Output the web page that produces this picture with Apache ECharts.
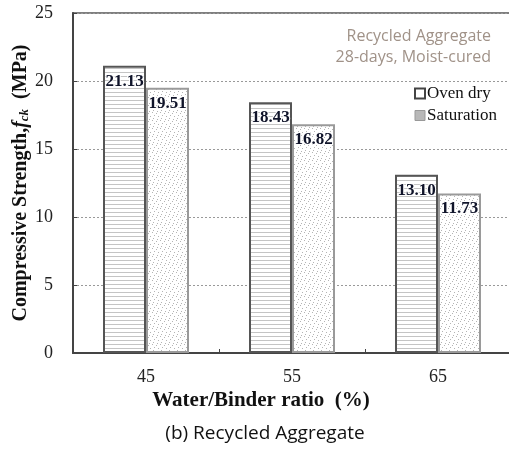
<!DOCTYPE html>
<html>
<head>
<meta charset="utf-8">
<script src="https://cdn.jsdelivr.net/npm/echarts@6/dist/echarts.min.js"></script>
<style>
  html, body { margin: 0; padding: 0; background: #fff; }
  #chart { width: 509px; height: 449px; }
</style>
</head>
<body>
<div id="chart"></div>
<script>
// Water/binder ratios and 28-day compressive strength (MPa)
const ratios = ['45', '55', '65'];
const ovenDry = [21.13, 18.43, 13.10];
const saturation = [19.51, 16.82, 11.73];
const yTicks = [0, 5, 10, 15, 20, 25];

// Hatch fill: horizontal light-gray lines
function makeHatch() {
  const c = document.createElement('canvas');
  c.width = 8; c.height = 4;
  const g = c.getContext('2d');
  g.fillStyle = '#ffffff';
  g.fillRect(0, 0, 8, 4);
  g.fillStyle = '#c4c4c4';
  g.fillRect(0, 0, 8, 1);
  return c;
}
// Stipple fill: scattered small gray dots
function makeStipple() {
  const c = document.createElement('canvas');
  c.width = 8; c.height = 8;
  const g = c.getContext('2d');
  g.fillStyle = '#ffffff';
  g.fillRect(0, 0, 8, 8);
  g.fillStyle = '#b4b4b4';
  [[0, 0], [4, 1], [2, 3], [6, 4], [1, 6], [5, 7]].forEach(p => g.fillRect(p[0], p[1], 1, 1));
  return c;
}

const serif = '"Liberation Serif", "Times New Roman", serif';
const sans = '"Open Sans", "Noto Sans", sans-serif';

const labelStyle = {
  show: true,
  position: 'insideTop',
  distance: 7,
  fontFamily: serif,
  fontWeight: 'bold',
  fontSize: 17,
  color: '#10142a',
  textBorderColor: '#ffffff',
  textBorderWidth: 2,
  formatter: p => p.value.toFixed(2)
};

const chart = echarts.init(document.getElementById('chart'), null, { renderer: 'canvas' });
chart.setOption({
  animation: false,
  backgroundColor: '#ffffff',
  grid: {
    left: 73, right: -2, top: 13, bottom: 96,
    outerBoundsMode: 'none',
    containLabel: false,
    show: true, borderColor: '#555', borderWidth: 1.5, backgroundColor: 'transparent'
  },
  legend: {
    orient: 'vertical',
    left: 409, top: 80,
    itemWidth: 10, itemHeight: 10, itemGap: 5,
    textStyle: { fontFamily: serif, fontSize: 17, color: '#111', padding: [0, 0, 0, -3] },
    data: [
      { name: 'Oven dry', icon: 'rect', itemStyle: { color: '#ffffff', borderColor: '#444', borderWidth: 2 } },
      { name: 'Saturation', icon: 'rect', itemStyle: { color: '#b8b8b8', borderColor: '#999', borderWidth: 1 } }
    ]
  },
  xAxis: {
    type: 'category',
    data: ratios,
    name: 'Water/Binder ratio  (%)',
    nameLocation: 'middle',
    nameGap: 37,
    nameMoveOverlap: false,
    nameTextStyle: { fontFamily: serif, fontWeight: 'bold', fontSize: 21, color: '#111', padding: [0, 62, 0, 0] },
    axisLine: { lineStyle: { color: '#444', width: 2 } },
    axisTick: { show: true, inside: true, length: 4, lineStyle: { color: '#444' } },
    axisLabel: { fontFamily: serif, fontSize: 18, color: '#222', margin: 15 },
    splitLine: { show: false }
  },
  yAxis: {
    type: 'value',
    min: 0, max: 25, interval: 5,
    name: '{b|Compressive Strength,}{i|f}{s|ck}{b|  (MPa)}',
    nameLocation: 'middle',
    nameGap: 42,
    nameMoveOverlap: false,
    nameTextStyle: {
      rich: {
        b: { fontFamily: serif, fontWeight: 'bold', fontSize: 20, color: '#111' },
        i: { fontFamily: serif, fontWeight: 'bold', fontStyle: 'italic', fontSize: 20, color: '#111' },
        s: { fontFamily: serif, fontWeight: 'bold', fontStyle: 'italic', fontSize: 13, color: '#111', verticalAlign: 'bottom', padding: [8, 0, 0, 0] }
      }
    },
    axisLine: { show: true, lineStyle: { color: '#444', width: 2 } },
    axisTick: { show: true, inside: true, length: 4, lineStyle: { color: '#444' } },
    axisLabel: {
      fontFamily: serif, fontSize: 18, color: '#222', margin: 20,
      formatter: v => (yTicks.indexOf(v) >= 0 ? String(v) : '')
    },
    splitLine: { show: true, lineStyle: { color: '#999', type: [2, 2], width: 1 } }
  },
  series: [
    {
      name: 'Oven dry',
      type: 'bar',
      data: ovenDry,
      barWidth: 43,
      barGap: '0%',
      itemStyle: { color: { image: makeHatch(), repeat: 'repeat' }, borderColor: '#555', borderWidth: 2 },
      label: labelStyle
    },
    {
      name: 'Saturation',
      type: 'bar',
      data: saturation,
      barWidth: 43,
      barGap: '0%',
      itemStyle: { color: { image: makeStipple(), repeat: 'repeat' }, borderColor: '#9a9a9a', borderWidth: 2 },
      label: labelStyle
    }
  ],
  graphic: [
    {
      type: 'text', x: 491, y: 26,
      style: {
        text: 'Recycled Aggregate\n28-days, Moist-cured',
        align: 'right', fontFamily: sans, fontSize: 16, lineHeight: 21, fill: '#a09288'
      }
    },
    {
      type: 'text', x: 265, y: 424,
      style: { text: '(b) Recycled Aggregate', align: 'center', fontFamily: sans, fontSize: 19, fill: '#111' }
    }
  ]
});
</script>
</body>
</html>
